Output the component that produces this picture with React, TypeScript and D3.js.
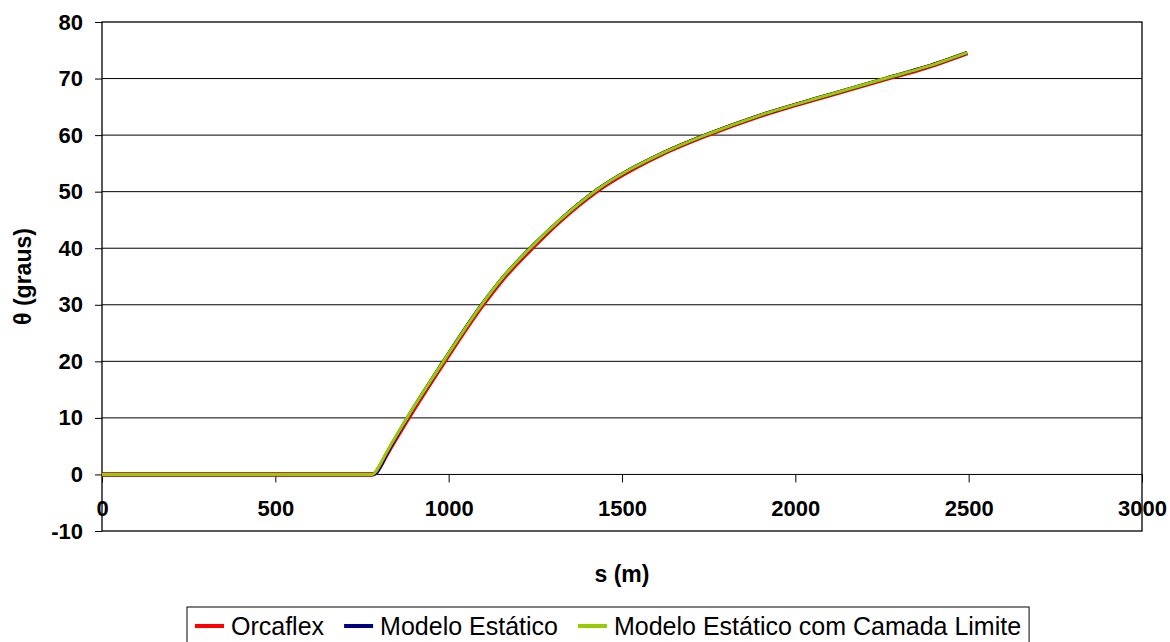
import React, { useEffect, useRef } from 'react';
import * as d3 from 'd3';

// s (m) positions shared by the three series
const sValues = [0, 200, 400, 600, 780, 790, 800, 820, 880, 985, 1095, 1153, 1245, 1321, 1427, 1610, 1749, 1898, 2090, 2259, 2379, 2496];

// θ (graus)
const orcaflex = [0, 0, 0, 0, 0, 0.3, 1.2, 3.4, 9.6, 19.7, 29.7, 34.3, 40.3, 44.8, 50.1, 56.5, 60.1, 63.4, 66.9, 69.9, 72.0, 74.5];
const modeloEstatico = [0, 0, 0, 0, 0, 0.2, 1.1, 3.5, 9.9, 20.0, 30.0, 34.6, 40.6, 45.0, 50.3, 56.6, 60.2, 63.5, 67.0, 70.0, 72.1, 74.6];
const camadaLimite = [0, 0, 0, 0, 0, 0.5, 1.5, 3.8, 10.0, 20.0, 30.0, 34.6, 40.6, 45.0, 50.3, 56.6, 60.2, 63.5, 67.0, 70.0, 72.1, 74.6];

const seriesNames = ['Orcaflex', 'Modelo Estático', 'Modelo Estático com Camada Limite'];
const seriesColors = ['#ff0000', '#000080', '#99cc00'];
const seriesWidths = [4.5, 3.5, 3];

const xTicks = [0, 500, 1000, 1500, 2000, 2500, 3000];
const yTicks = [-10, 0, 10, 20, 30, 40, 50, 60, 70, 80];

const W = 1170;
const H = 642;

export default function App() {
  const svgRef = useRef<SVGSVGElement>(null);

  useEffect(() => {
    if (!svgRef.current) return;
    const svg = d3.select(svgRef.current);
    svg.selectAll('*').remove();

    const left = 102, top = 22, right = 1142, bottom = 531;
    const font = 'Arial, "Liberation Sans", sans-serif';

    const x = d3.scaleLinear().domain([0, 3000]).range([left, right]);
    const y = d3.scaleLinear().domain([-10, 80]).range([bottom, top]);

    // gridlines
    svg.append('g')
      .selectAll('line')
      .data(yTicks.filter(t => t > -10 && t < 80))
      .join('line')
      .attr('x1', left)
      .attr('x2', right)
      .attr('y1', d => y(d))
      .attr('y2', d => y(d))
      .attr('stroke', '#000')
      .attr('stroke-width', 1);

    // plot border
    svg.append('rect')
      .attr('x', left)
      .attr('y', top)
      .attr('width', right - left)
      .attr('height', bottom - top)
      .attr('fill', 'none')
      .attr('stroke', '#000')
      .attr('stroke-width', 1.3);

    // y axis
    const yAxis = svg.append('g')
      .attr('transform', `translate(${left},0)`)
      .call(d3.axisLeft(y).tickValues(yTicks).tickSize(7).tickPadding(12).tickFormat(d3.format('d')));
    yAxis.select('.domain').remove();
    yAxis.selectAll('line').attr('stroke', '#000');
    yAxis.selectAll('text')
      .attr('font-family', font)
      .attr('font-size', 22)
      .attr('font-weight', 'bold')
      .attr('fill', '#000')
      .text(d => (d as number) < 0 ? '-' + Math.abs(d as number) : String(d));

    // x axis sits on θ = 0
    const xAxis = svg.append('g')
      .attr('transform', `translate(0,${y(0)})`)
      .call(d3.axisBottom(x).tickValues(xTicks).tickSize(8).tickPadding(18).tickFormat(d3.format('d')));
    xAxis.select('.domain').remove();
    xAxis.selectAll('line').attr('stroke', '#000');
    xAxis.selectAll('text')
      .attr('font-family', font)
      .attr('font-size', 22)
      .attr('font-weight', 'bold')
      .attr('fill', '#000');

    // series
    const allSeries = [orcaflex, modeloEstatico, camadaLimite];
    const line = d3.line<number>()
      .x((d, i) => x(sValues[i]))
      .y(d => y(d))
      .curve(d3.curveMonotoneX);

    allSeries.forEach((vals, k) => {
      svg.append('path')
        .datum(vals)
        .attr('fill', 'none')
        .attr('stroke', seriesColors[k])
        .attr('stroke-width', seriesWidths[k])
        .attr('stroke-linejoin', 'round')
        .attr('d', line);
    });

    // axis titles
    svg.append('text')
      .attr('transform', `translate(31,${(top + bottom) / 2}) rotate(-90)`)
      .attr('text-anchor', 'middle')
      .attr('font-family', font)
      .attr('font-size', 23)
      .attr('font-weight', 'bold')
      .text('θ (graus)');

    svg.append('text')
      .attr('x', (left + right) / 2)
      .attr('y', 582)
      .attr('text-anchor', 'middle')
      .attr('font-family', font)
      .attr('font-size', 23)
      .attr('font-weight', 'bold')
      .text('s (m)');

    // legend
    const lg = svg.append('g');
    const box = lg.append('rect')
      .attr('y', 607)
      .attr('height', 36)
      .attr('fill', '#fff')
      .attr('stroke', '#000')
      .attr('stroke-width', 1);
    const boxLeft = 187;
    let cx = boxLeft + 8;
    seriesNames.forEach((name, k) => {
      lg.append('line')
        .attr('x1', cx)
        .attr('x2', cx + 29)
        .attr('y1', 626)
        .attr('y2', 626)
        .attr('stroke', seriesColors[k])
        .attr('stroke-width', 4);
      const t = lg.append('text')
        .attr('x', cx + 36)
        .attr('y', 635)
        .attr('font-family', font)
        .attr('font-size', 25)
        .text(name);
      const w = (t.node() as SVGTextElement).getComputedTextLength();
      cx += 36 + w + (k < seriesNames.length - 1 ? 20 : 8);
    });
    box.attr('x', boxLeft).attr('width', cx - boxLeft);
  }, []);

  return (
    <svg
      ref={svgRef}
      width={W}
      height={H}
      style={{ position: 'absolute', left: 0, top: 0, background: '#fff' }}
    />
  );
}
